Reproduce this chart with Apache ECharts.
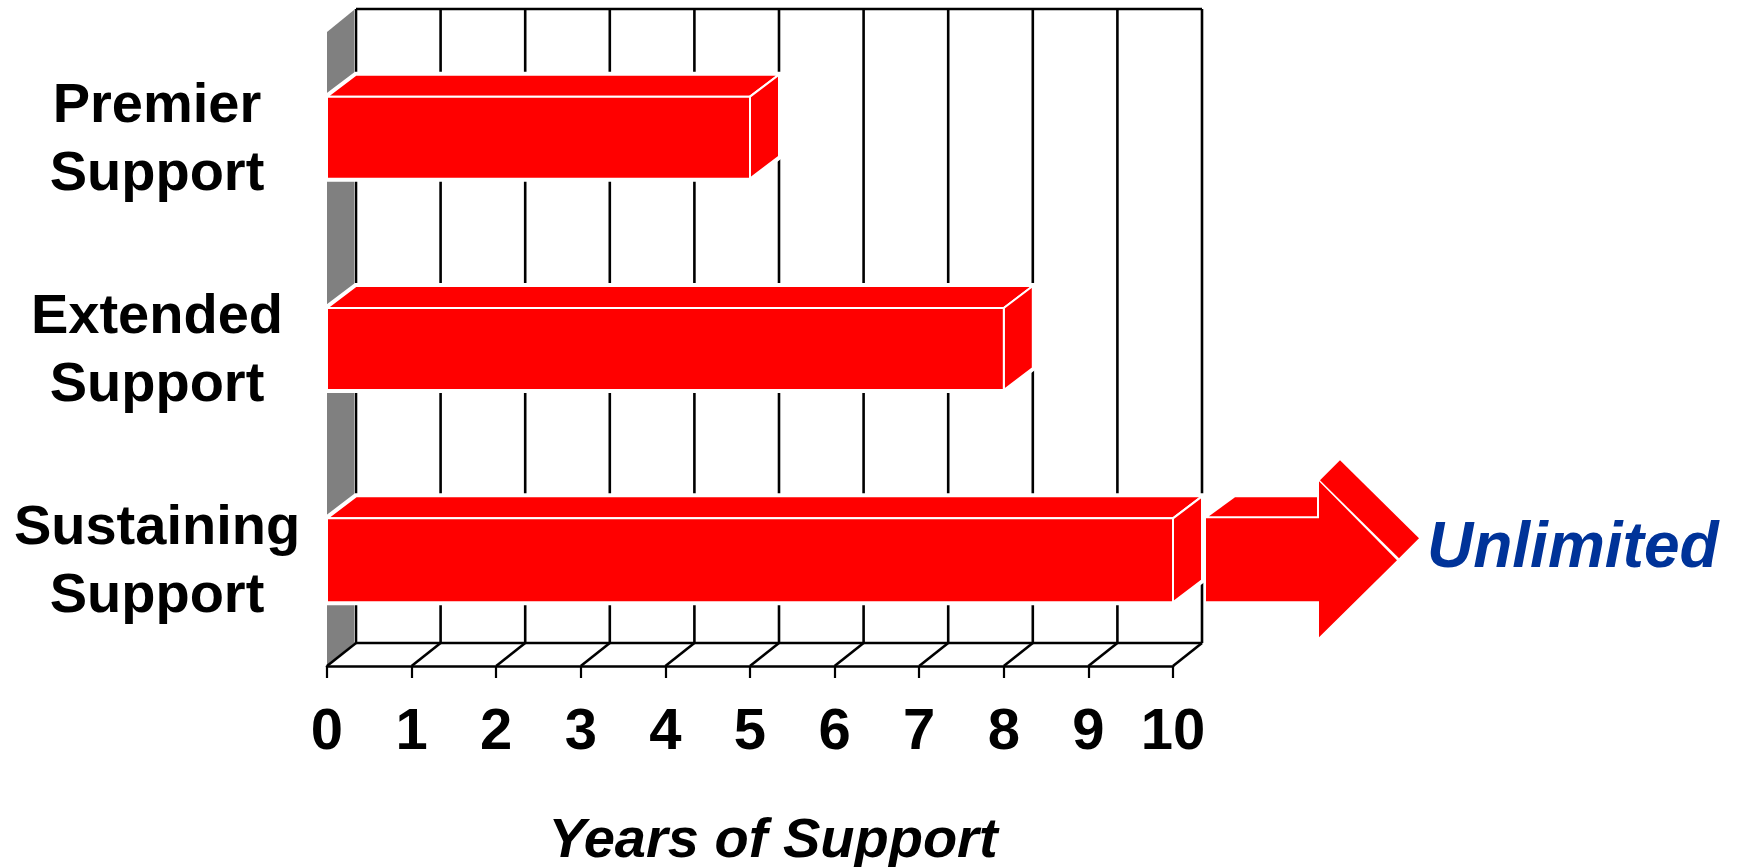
<!DOCTYPE html>
<html><head><meta charset="utf-8">
<style>html,body{margin:0;padding:0;background:#fff}#c{width:1737px;height:867px}</style>
<script src="https://cdn.jsdelivr.net/npm/echarts@6/dist/echarts.min.js"></script>
</head><body><div id="c"></div>
<script>
const categories = ['Premier\nSupport', 'Extended\nSupport', 'Sustaining\nSupport'];
const years = [5, 8, 10];
const xTicks = [0, 1, 2, 3, 4, 5, 6, 7, 8, 9, 10];
const axisTitle = 'Years of Support';
const arrowLabel = 'Unlimited';

const DX = 29, DY = 23, RED = '#ff0000', FONT = '"Liberation Sans", Arial, sans-serif';
const chart = echarts.init(document.getElementById('c'), null, {renderer: 'canvas'});
const line = (x1, y1, x2, y2) => ({type: 'line', shape: {x1, y1, x2, y2},
  style: {stroke: '#000', lineWidth: 2.6}});
const poly = (points, fill, stroke, lineWidth) => ({type: 'polygon', shape: {points},
  style: {fill, stroke: stroke || null, lineWidth: lineWidth || 0, lineJoin: 'miter'}});

function renderFrame(params, api) {
  const g = params.coordSys, v = api.value(0), x = api.coord([v, 0])[0];
  const bottom = g.y + g.height, top = g.y;
  const kids = [];
  if (v === 0) {
    kids.push(poly([[g.x, top], [g.x + DX - 2, top - DY + 1], [g.x + DX - 2, bottom - DY], [g.x, bottom]], '#808080'));
    kids.push(line(g.x + DX, top - DY, g.x + g.width + DX, top - DY));
    kids.push(line(g.x + DX, bottom - DY, g.x + g.width + DX, bottom - DY));
  }
  kids.push(line(x + DX, top - DY, x + DX, bottom - DY));
  kids.push(line(x, bottom, x + DX, bottom - DY));
  return {type: 'group', children: kids};
}

function renderBar(params, api) {
  const x0 = api.coord([0, api.value(1)])[0];
  const p = api.coord([api.value(0), api.value(1)]);
  const h = params.dataIndex === 2 ? 84 : 82;
  const t = p[1] - h / 2, b = p[1] + h / 2, r = p[0], dx = DX, dy = DY - 1;
  const kids = [
    poly([[x0, t], [x0 + dx, t - dy], [r + dx, t - dy], [r + dx, b - dy], [r, b], [x0, b]], '#fff', '#fff', 6),
    poly([[x0, t], [x0 + dx, t - dy], [r + dx, t - dy], [r, t]], RED, '#fff', 2),
    poly([[r, t], [r + dx, t - dy], [r + dx, b - dy], [r, b]], RED, '#fff', 2),
    poly([[x0, t], [r, t], [r, b], [x0, b]], RED, '#fff', 2)
  ];
  return {type: 'group', children: kids};
}

function renderArrow(params, api) {
  const p = api.coord([api.value(0), api.value(1)]);
  const P = (dx, dy) => [p[0] + dx, p[1] + dy];
  return {type: 'group', children: [
    poly([P(36, -44), P(62, -63), P(144, -63), P(144, -44)], RED),
    poly([P(147, -80), P(167, -100), P(246, -22), P(226, -2)], RED),
    poly([P(33, -42), P(146, -42), P(146, -79), P(224, 0), P(146, 77), P(146, 41), P(33, 41)], RED),
    {type: 'text', x: p[0] + 254, y: p[1] - 11,
     style: {text: api.value(2) === 0 ? arrowLabel : '', fill: '#003399', font: 'italic bold 64px ' + FONT,
             textAlign: 'left', textVerticalAlign: 'middle'}}
  ]};
}

chart.setOption({
  animation: false,
  backgroundColor: '#fff',
  grid: {left: 327, top: 32, width: 846, height: 634, containLabel: false, outerBoundsMode: 'none'},
  xAxis: {
    type: 'value', min: 0, max: 10, interval: 1,
    splitLine: {show: false},
    axisLine: {show: true, lineStyle: {color: '#000', width: 2.6}},
    axisTick: {show: true, length: 12, lineStyle: {color: '#000', width: 2.2}},
    axisLabel: {color: '#000', fontFamily: FONT, fontWeight: 'bold', fontSize: 58, margin: 38, hideOverlap: false},
    name: axisTitle, nameLocation: 'middle', nameGap: 148,
    nameTextStyle: {color: '#000', fontFamily: FONT, fontWeight: 'bold', fontStyle: 'italic', fontSize: 56,
                    padding: [0, 0, 0, 46]}
  },
  yAxis: {
    type: 'category', data: categories, inverse: true,
    axisLine: {show: false}, axisTick: {show: false}, splitLine: {show: false},
    axisLabel: {align: 'center', margin: 170,
                formatter: v => v.split('\n').map(s => '{a|' + s + '}').join('\n'),
                rich: {a: {color: '#000', fontFamily: FONT, fontWeight: 'bold', fontSize: 56,
                           lineHeight: 68, padding: [5, 0, 0, 0]}}}
  },
  series: [
    {type: 'custom', z: 1, silent: true, renderItem: renderFrame, data: xTicks.map(t => [t, 0])},
    {type: 'custom', z: 2, silent: true, renderItem: renderBar, data: years.map((y, i) => [y, i])},
    {type: 'custom', z: 3, silent: true, renderItem: renderArrow, data: [[years[2], 2, 0]]}
  ]
});
</script></body></html>
